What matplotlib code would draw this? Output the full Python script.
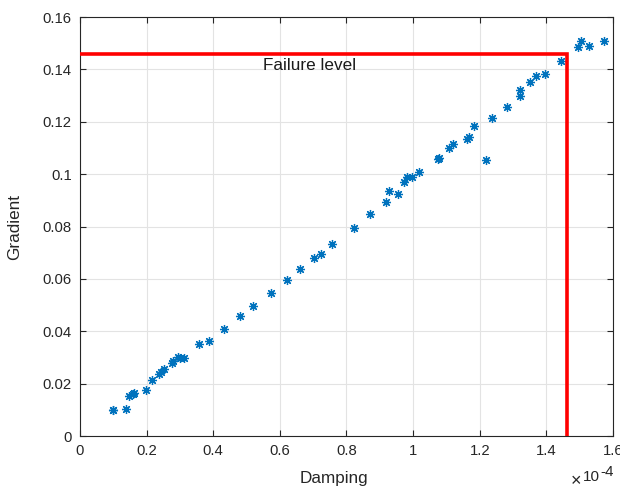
import numpy as np
import matplotlib
matplotlib.use("Agg")
import matplotlib.pyplot as plt
from matplotlib.ticker import FuncFormatter

plt.rcParams['font.family'] = ['Liberation Sans', 'DejaVu Sans']

# damping in units of 1e-4, gradient as is
damping_e4 = [0.098, 0.100, 0.138, 0.148, 0.158, 0.162, 0.198, 0.216, 0.236, 0.244,
              0.252, 0.276, 0.280, 0.293, 0.300, 0.312, 0.356, 0.388, 0.431, 0.481,
              0.518, 0.572, 0.621, 0.660, 0.701, 0.722, 0.757, 0.824, 0.871, 0.919,
              0.929, 0.955, 0.973, 0.981, 0.996, 1.017, 1.075, 1.079, 1.109, 1.121,
              1.161, 1.169, 1.184, 1.220, 1.238, 1.282, 1.321, 1.322, 1.351, 1.370,
              1.397, 1.445, 1.495, 1.505, 1.527, 1.572]
gradient = [0.0099, 0.0101, 0.0104, 0.0154, 0.0162, 0.0164, 0.0175, 0.0215, 0.0237, 0.0245,
            0.0256, 0.0280, 0.0286, 0.0301, 0.0299, 0.0297, 0.0351, 0.0364, 0.0408, 0.0458,
            0.0497, 0.0548, 0.0597, 0.0637, 0.0678, 0.0696, 0.0733, 0.0793, 0.0846, 0.0895,
            0.0934, 0.0924, 0.0970, 0.0988, 0.0988, 0.1007, 0.1058, 0.1062, 0.1101, 0.1117,
            0.1136, 0.1142, 0.1185, 0.1053, 0.1213, 0.1257, 0.1300, 0.1320, 0.1351, 0.1374,
            0.1384, 0.1433, 0.1484, 0.1507, 0.1491, 0.1507]
fail_damping = 1.461e-4
fail_gradient = 0.1459

damping = np.array(damping_e4) * 1e-4

fig = plt.figure(figsize=(6.2, 4.92), dpi=100)
ax = fig.add_axes([0.129, 0.1138, 0.8597, 0.8516])

ax.plot(damping, gradient, linestyle='none', marker=(8, 2, 0), ms=6.5, mew=0.9,
        color='#0072BD', zorder=3)
# failure level box
ax.plot([0, fail_damping, fail_damping], [fail_gradient, fail_gradient, 0],
        color='red', lw=2.6, zorder=4, solid_joinstyle='miter')
ax.text(0.55e-4, 0.1416, 'Failure level', fontsize=12.3, va='center', ha='left',
        color='#1a1a1a')

ax.set_xlim(0, 1.6e-4)
ax.set_ylim(0, 0.16)
ax.set_xticks(np.arange(0, 1.61e-4, 0.2e-4))
ax.set_yticks(np.arange(0, 0.161, 0.02))
ax.xaxis.set_major_formatter(FuncFormatter(lambda v, p: '%g' % round(v * 1e4, 2)))
ax.yaxis.set_major_formatter(FuncFormatter(lambda v, p: '%g' % round(v, 3)))
ax.tick_params(direction='in', top=True, right=True, length=4, width=0.8,
               labelsize=10.7, colors='#262626', pad=6)
ax.grid(True, color='#e3e3e3', lw=0.8)
ax.set_axisbelow(True)
for s in ax.spines.values():
    s.set_color('#262626')
    s.set_linewidth(0.8)

ax.set_xlabel('Damping', fontsize=12.3, color='#262626')
ax.set_ylabel('Gradient', fontsize=12.3, color='#262626')
ax.xaxis.set_label_coords(0.4765, -0.084)
ax.yaxis.set_label_coords(-0.108, 0.5)

# exponent label, MATLAB style
fig.text(0.929, 0.0203, '\u00d7', fontsize=13, color='#262626', ha='center', va='center')
fig.text(0.9403, 0.0224, '10', fontsize=11, color='#262626', va='baseline')
fig.text(0.9677, 0.0325, '-4', fontsize=11, color='#262626', va='baseline')

fig.savefig('out.png', dpi=100)
